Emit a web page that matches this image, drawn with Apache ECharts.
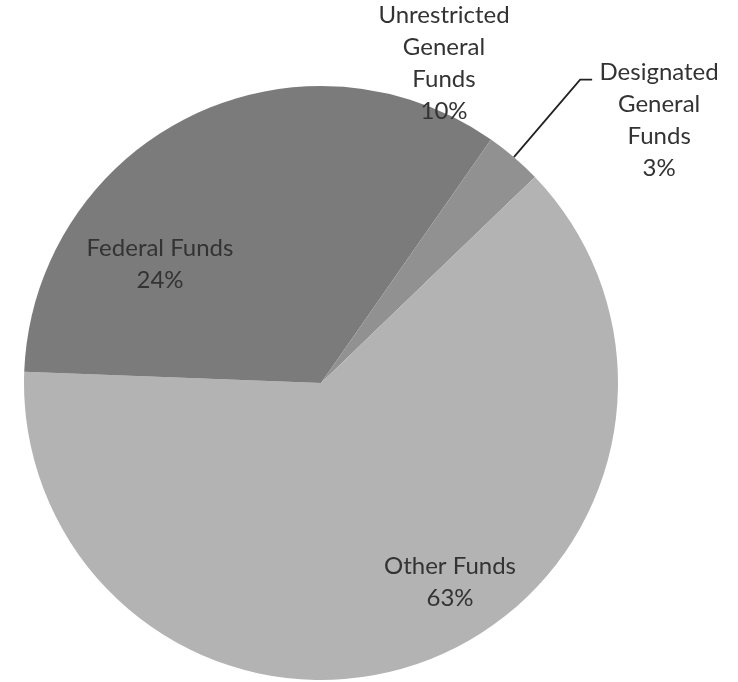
<!DOCTYPE html>
<html>
<head>
<meta charset="utf-8">
<script src="https://cdn.jsdelivr.net/npm/echarts@6/dist/echarts.min.js"></script>
<style>
html,body{margin:0;padding:0;background:#fff;}
#chart{width:738px;height:682px;}
</style>
</head>
<body>
<div id="chart"></div>
<script>
// Data (percent of total), clockwise from 12 o'clock
const categories = ['Unrestricted General Funds', 'Designated General Funds', 'Other Funds', 'Federal Funds'];
const labelTexts = ['Unrestricted\nGeneral\nFunds', 'Designated\nGeneral\nFunds', 'Other Funds', 'Federal Funds'];
const values = [9.7, 3.1, 62.8, 24.4];

const colors = ['#7b7b7b', '#919191', '#b3b3b3', '#7b7b7b'];
const FONT = 'Lato';
// fixed label anchor points (style/layout only)
const labelAnchors = {0: [444, 63], 2: [450, 582], 3: [160, 264]};

const chart = echarts.init(document.getElementById('chart'), null, {renderer: 'canvas'});

const data = categories.map((name, i) => {
  const item = {
    name: name,
    value: values[i],
    itemStyle: {color: colors[i]}
  };
  if (i === 1) {
    item.label = {
      position: 'outside',
      padding: [82, 0, 0, 0],
      formatter: (p) => labelTexts[p.dataIndex].split('\n').concat([p.percent + '%']).map(s => '{a|' + s + '}').join('\n'),
      rich: {a: {fontFamily: FONT, fontSize: 24, lineHeight: 32, color: '#333333', width: 124, align: 'center'}}
    };
    item.labelLine = {show: true, length: 102, length2: 12, lineStyle: {color: '#222222', width: 1.8}};
  } else {
    item.label = {position: 'inside'};
    item.labelLine = {show: false};
  }
  return item;
});

chart.setOption({
  animation: false,
  backgroundColor: '#ffffff',
  series: [{
    type: 'pie',
    center: [321, 383],
    radius: [0, 297],
    startAngle: 90,
    clockwise: true,
    avoidLabelOverlap: false,
    percentPrecision: 0,
    itemStyle: {borderWidth: 0},
    label: {
      show: true,
      fontFamily: FONT,
      fontSize: 24,
      lineHeight: 32,
      color: '#333333',
      align: 'center',
      formatter: (p) => labelTexts[p.dataIndex] + '\n' + p.percent + '%'
    },
    labelLayout: function (params) {
      const a = labelAnchors[params.dataIndex];
      if (!a) return {};
      return {x: a[0], y: a[1], align: 'center', verticalAlign: 'middle'};
    },
    emphasis: {disabled: true},
    data: data
  }]
});
</script>
</body>
</html>
